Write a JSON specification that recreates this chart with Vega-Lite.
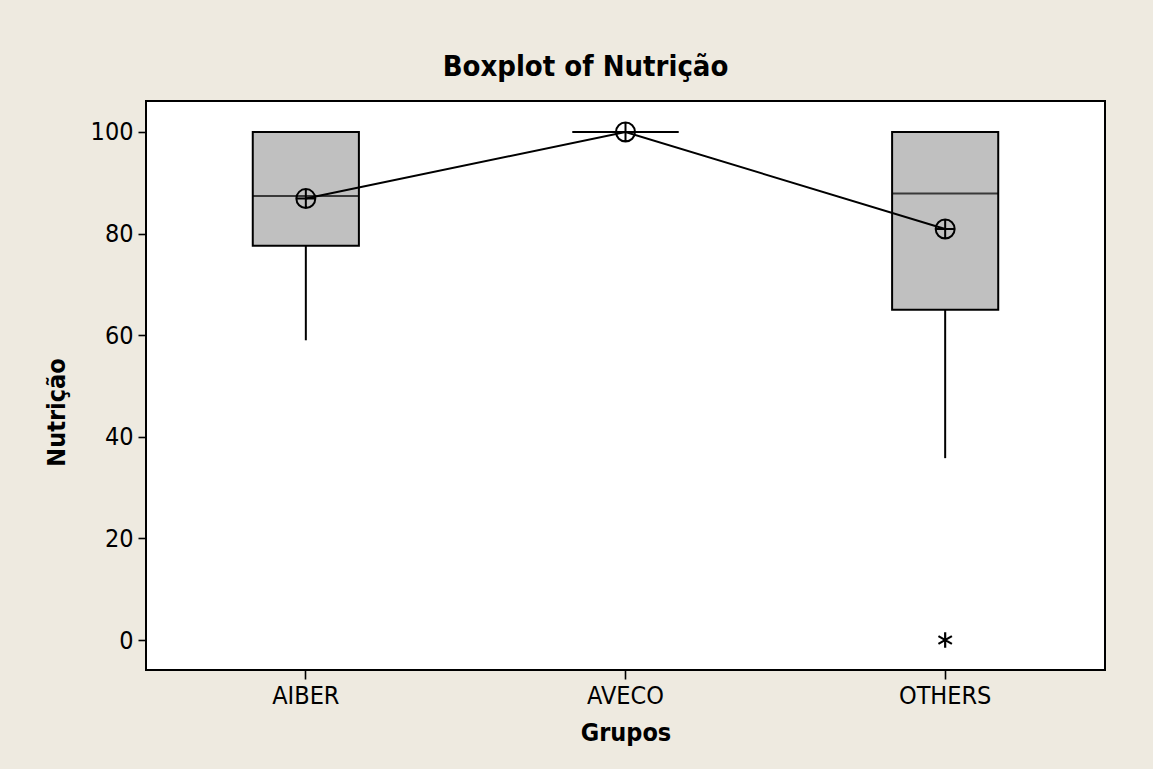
{
  "$schema": "https://vega.github.io/schema/vega-lite/v6.json",
  "width": 959,
  "height": 569,
  "autosize": "none",
  "padding": {"left": 146, "top": 101, "right": 48, "bottom": 99},
  "background": "#EEEAE0",
  "title": {
    "text": "Boxplot of Nutrição",
    "font": "DejaVu Sans Condensed",
    "fontSize": 29,
    "fontWeight": "bold",
    "color": "black",
    "anchor": "middle",
    "baseline": "alphabetic",
    "dx": -40,
    "dy": 29,
    "offset": 25
  },
  "config": {
    "view": {"stroke": "black", "strokeWidth": 2, "fill": "white"},
    "axis": {
      "labelFont": "DejaVu Sans Condensed",
      "titleFont": "DejaVu Sans Condensed",
      "labelColor": "black",
      "titleColor": "black",
      "tickColor": "black",
      "tickWidth": 1.6,
      "grid": false,
      "domain": false,
      "labelFontSize": 25,
      "titleFontSize": 25,
      "titleFontWeight": "bold"
    }
  },
  "datasets": {
    "stats": [
      {"Grupos": "AIBER", "lower": 59, "q1": 77.6, "median": 87.4, "q3": 100, "mean": 86.9},
      {"Grupos": "AVECO", "lower": 100, "q1": 100, "median": 100, "q3": 100, "mean": 100},
      {"Grupos": "OTHERS", "lower": 35.8, "q1": 65, "median": 87.9, "q3": 100, "mean": 80.9}
    ],
    "outliers": [
      {"Grupos": "OTHERS", "value": 0}
    ]
  },
  "data": {"name": "stats"},
  "encoding": {
    "x": {
      "field": "Grupos",
      "type": "nominal",
      "sort": ["AIBER", "AVECO", "OTHERS"],
      "scale": {"type": "band", "paddingInner": 0, "paddingOuter": 0},
      "axis": {"labelAngle": 0, "tickSize": 9, "labelPadding": 4, "titlePadding": 12, "title": "Grupos"}
    }
  },
  "layer": [
    {
      "mark": {"type": "rule", "color": "black", "strokeWidth": 2},
      "encoding": {
        "y": {
          "field": "lower",
          "type": "quantitative",
          "scale": {"domain": [-5.9, 106.1], "nice": false, "zero": false},
          "axis": {"values": [0, 20, 40, 60, 80, 100], "tickSize": 8, "labelPadding": 5, "title": "Nutrição", "titlePadding": 21, "titleY": 311}
        },
        "y2": {"field": "q1"}
      }
    },
    {
      "mark": {"type": "bar", "fill": "#C0C0C0", "stroke": "black", "strokeWidth": 2, "width": {"band": 0.332}},
      "encoding": {
        "y": {"field": "q1", "type": "quantitative"},
        "y2": {"field": "q3"}
      }
    },
    {
      "mark": {"type": "tick", "color": "black", "size": 106, "thickness": 2, "orient": "horizontal"},
      "encoding": {
        "y": {"field": "median", "type": "quantitative"}
      }
    },
    {
      "mark": {"type": "line", "color": "black", "strokeWidth": 2},
      "encoding": {
        "y": {"field": "mean", "type": "quantitative"}
      }
    },
    {
      "mark": {"type": "point", "shape": "M-1,0A1,1 0 1,0 1,0A1,1 0 1,0 -1,0ZM-1,0H1M0,-1V1", "filled": false, "stroke": "black", "strokeWidth": 2, "size": 360, "opacity": 1},
      "encoding": {
        "y": {"field": "mean", "type": "quantitative"}
      }
    },
    {
      "data": {"name": "outliers"},
      "mark": {"type": "point", "shape": "M0,-1V1M-0.87,-0.5L0.87,0.5M-0.87,0.5L0.87,-0.5", "filled": false, "stroke": "black", "strokeWidth": 2.2, "size": 240, "opacity": 1},
      "encoding": {
        "y": {"field": "value", "type": "quantitative"}
      }
    }
  ]
}
